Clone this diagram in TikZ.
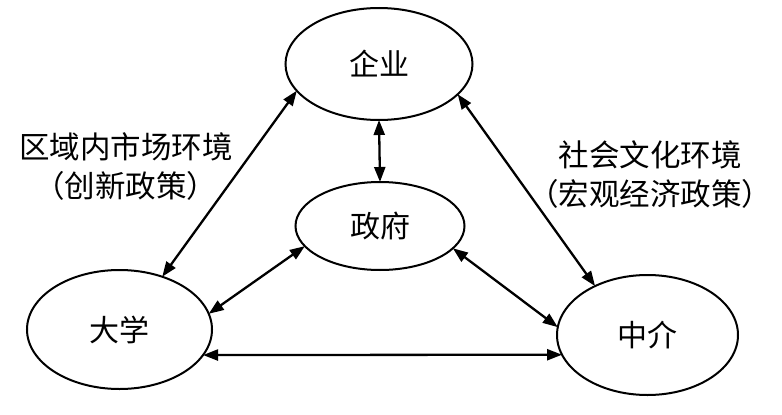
\documentclass[tikz,border=0pt]{standalone}
\usepackage{fontspec}
\setmainfont{Noto Sans CJK SC}
\usetikzlibrary{shapes.geometric,arrows.meta}
\tikzset{
  actor/.style={ellipse, draw, line width=2pt, inner sep=0pt, outer sep=0pt,
    font=\fontsize{30}{30}\selectfont},
  link/.style={line width=2.3pt, {Triangle[length=15pt,width=11pt]}-{Triangle[length=15pt,width=11pt]}},
  lbl/.style={align=center, font=\fontsize{30.5}{39}\selectfont, inner sep=0pt}
}
\begin{document}
\begin{tikzpicture}[x=1pt,y=-1pt]
\useasboundingbox (0,0) rectangle (782,415);
\node[actor, minimum width=187pt, minimum height=112pt] (qy) at (379,64) {企业};
\node[actor, minimum width=169pt, minimum height=88pt] (zf) at (380,226) {政府};
\node[actor, minimum width=185pt, minimum height=119pt] (dx) at (119.5,329.5) {大学};
\node[actor, minimum width=181pt, minimum height=120pt] (zj) at (647.5,335) {中介};
\draw[link] (dx.51.4) -- (qy.198.7);
\draw[link] (qy.-21) -- (zj.137.5);
\draw[link] (qy.south) -- (zf.north);
\draw[link] (zf.195) -- (dx.10);
\draw[link] (zf.-17.4) -- (zj.175.7);
\draw[link] (dx.-17) -- (zj.193.6);
\node[lbl] (lt) at (126,167) {区域内市场环境\\（创新政策）};
\node[lbl] (rt) at (650,175) {社会文化环境\\（宏观经济政策）};
\end{tikzpicture}
\end{document}
